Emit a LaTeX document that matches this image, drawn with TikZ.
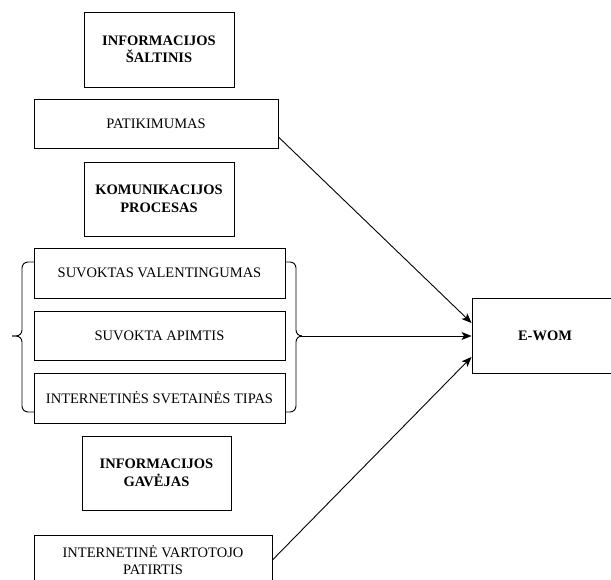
\documentclass[tikz,border=0pt]{standalone}
\usepackage{fontspec}
\setmainfont{Liberation Serif}
\usepackage{tikz}
\usetikzlibrary{arrows.meta,positioning,calc}

\begin{document}
\begin{tikzpicture}[x=1pt, y=-1pt, >=Stealth,
    box/.style={draw, line width=0.9pt, align=center, inner sep=0pt,
        font=\fontsize{14.5}{17.5}\selectfont},
    headbox/.style={box, font=\fontsize{14.5}{17.5}\selectfont\bfseries},
    arr/.style={line width=0.9pt, -{Stealth[length=10pt, width=8pt, inset=2.5pt]}},
    brace/.style={line width=0.9pt, rounded corners=6pt}]
    \useasboundingbox (0,0) rectangle (611,580);
    \clip (0,0) rectangle (611,580);

    % Source
    \node[headbox, minimum width=150pt, minimum height=75pt] (src) at (159,49.5) {INFORMACIJOS\\ŠALTINIS};
    \node[box, minimum width=244pt, minimum height=49pt] (patik) at (156,123.5) {PATIKIMUMAS};

    % Communication process
    \node[headbox, minimum width=150pt, minimum height=74pt] (kom) at (159,199) {KOMUNIKACIJOS\\PROCESAS};
    \node[box, minimum width=251pt, minimum height=50pt] (val) at (159.5,273) {SUVOKTAS VALENTINGUMAS};
    \node[box, minimum width=251pt, minimum height=49pt] (apim) at (159.5,335.5) {SUVOKTA APIMTIS};
    \node[box, minimum width=251pt, minimum height=50pt] (tipas) at (159.5,398) {INTERNETINĖS SVETAINĖS TIPAS};

    % Receiver
    \node[headbox, minimum width=149pt, minimum height=74pt] (gav) at (156.5,473) {INFORMACIJOS\\GAVĖJAS};
    \node[box, minimum width=238pt, minimum height=50pt] (patirt) at (153,560) {INTERNETINĖ VARTOTOJO\\PATIRTIS};

    % Outcome
    \node[headbox, minimum width=146pt, minimum height=75pt] (ewom) at (545,335.5) {E-WOM};

    % Braces
    \draw[brace] (34,262) -- (22,262) -- (22,336) -- (12,336);
    \draw[brace] (34,412) -- (22,412) -- (22,336) -- (12,336);
    \draw[brace] (285,262) -- (296,262) -- (296,336) -- (300,336);
    \draw[brace] (285,412) -- (296,412) -- (296,336) -- (300,336);
    \coordinate (brtip) at (300,336);

    % Links
    \draw[arr] ([yshift=-13.5pt]patik.east) -- ([yshift=12.5pt]ewom.west);
    \draw[arr] (brtip) -- (ewom.west |- brtip);
    \draw[arr] (patirt.east) -- ([yshift=-21.5pt]ewom.west);

\end{tikzpicture}
\end{document}
